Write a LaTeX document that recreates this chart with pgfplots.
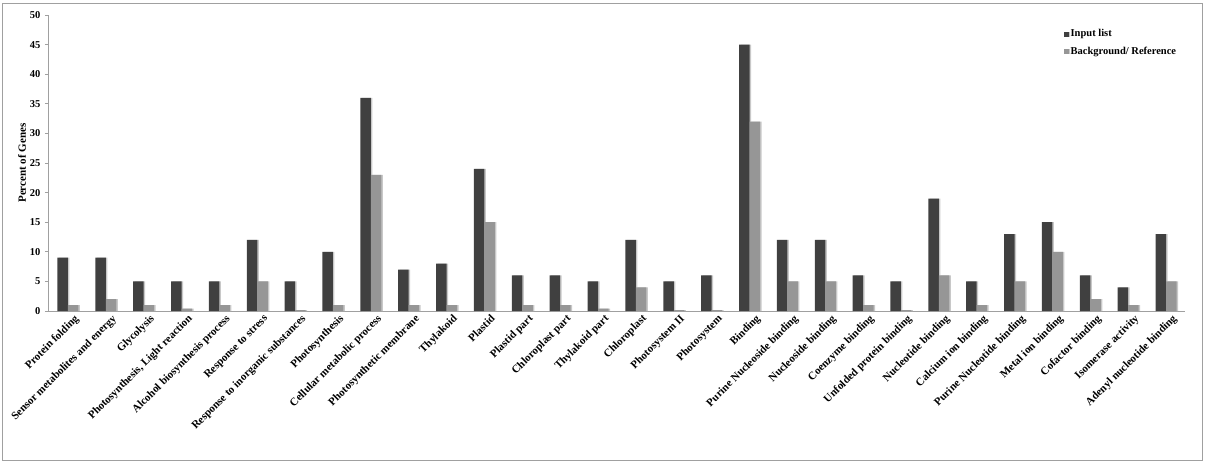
\documentclass[border=0pt]{standalone}
\usepackage{fontspec}
\setmainfont{Liberation Serif}
\usepackage{pgfplots}
\pgfplotsset{compat=1.18}

\definecolor{inputdark}{HTML}{404040}
\definecolor{refgrey}{HTML}{969696}
\definecolor{shadowgrey}{HTML}{C8C8C8}
\definecolor{axisgrey}{HTML}{A0A0A0}

\begin{document}
\begin{tikzpicture}
    % page = reference image, 1pt per pixel, axis box lower left at (49,311)
    \path[use as bounding box] (-49pt,-153pt) rectangle (1156pt,311pt);
    \draw[axisgrey, line width=1pt] (-46pt,-149pt) rectangle (1153pt,307pt);
    \begin{axis}[
        scale only axis,
        width=1136pt,
        height=296pt,
        ybar=0pt,
        bar width=10.5pt,
        xmin=-0.5, xmax=29.5,
        ymin=0, ymax=50,
        ytick={0,5,...,50},
        xtick=data,
        xticklabels={Protein folding, Sensor metabolites and energy, Glycolysis,
            {Photosynthesis, Light reaction}, Alcohol biosynthesis process,
            Response to stress, Response to inorganic substances, Photosynthesis,
            Cellular metabolic process, Photosynthetic membrane, Thylakoid, Plastid,
            Plastid part, Chloroplast part, Thylakoid part, Chloroplast,
            Photosystem II, Photosystem, Binding, Purine Nucleoside binding,
            Nucleoside binding, Coenzyme binding, Unfolded protein binding,
            Nucleotide binding, Calcium ion binding, Purine Nucleotide binding,
            Metal ion binding, Cofactor binding, Isomerase activity,
            Adenyl nucleotide binding},
        x tick style={draw=none},
        y tick style={axisgrey, line width=0.8pt},
        tick align=outside,
        major tick length=4pt,
        axis x line*=bottom,
        axis y line*=left,
        axis line style={axisgrey, line width=1pt, -},
        /pgf/number format/assume math mode=true,
        yticklabel style={font=\fontsize{10.5}{11}\selectfont\bfseries, xshift=-1pt},
        xticklabel style={font=\fontsize{11}{12}\selectfont\bfseries,
            rotate=45, anchor=north east, inner sep=1pt, xshift=6pt, yshift=-2pt},
        ylabel={Percent of Genes},
        ylabel style={font=\fontsize{11}{12}\selectfont\bfseries, yshift=-3pt},
        legend style={draw=none, fill=none, at={(0.893,0.958)}, anchor=north west,
            font=\fontsize{10.5}{11}\selectfont\bfseries, row sep=5pt,
            legend cell align=left, inner sep=0pt},
        legend image code/.code={\fill[#1] (0pt,-2.5pt) rectangle (5pt,2.5pt);},
        every axis plot/.append style={draw=none},
        ]

        % Input list
        \addplot[fill=inputdark,
            preaction={fill=shadowgrey, transform canvas={xshift=1.5pt}}]
            coordinates {
            (0,9) (1,9) (2,5) (3,5) (4,5) (5,12) (6,5) (7,10) (8,36) (9,7)
            (10,8) (11,24) (12,6) (13,6) (14,5) (15,12) (16,5) (17,6) (18,45) (19,12)
            (20,12) (21,6) (22,5) (23,19) (24,5) (25,13) (26,15) (27,6) (28,4) (29,13)
        };
        \addlegendentry{Input list}

        % Background / reference
        \addplot[fill=refgrey,
            preaction={fill=shadowgrey, transform canvas={xshift=1.5pt}}]
            coordinates {
            (0,1) (1,2) (2,1) (3,0.4) (4,1) (5,5) (6,0.15) (7,1) (8,23) (9,1)
            (10,1) (11,15) (12,1) (13,1) (14,0.4) (15,4) (16,0.15) (17,0.15) (18,32) (19,5)
            (20,5) (21,1) (22,0.15) (23,6) (24,1) (25,5) (26,10) (27,2) (28,1) (29,5)
        };
        \addlegendentry{Background/ Reference}
    \end{axis}
\end{tikzpicture}
\end{document}
